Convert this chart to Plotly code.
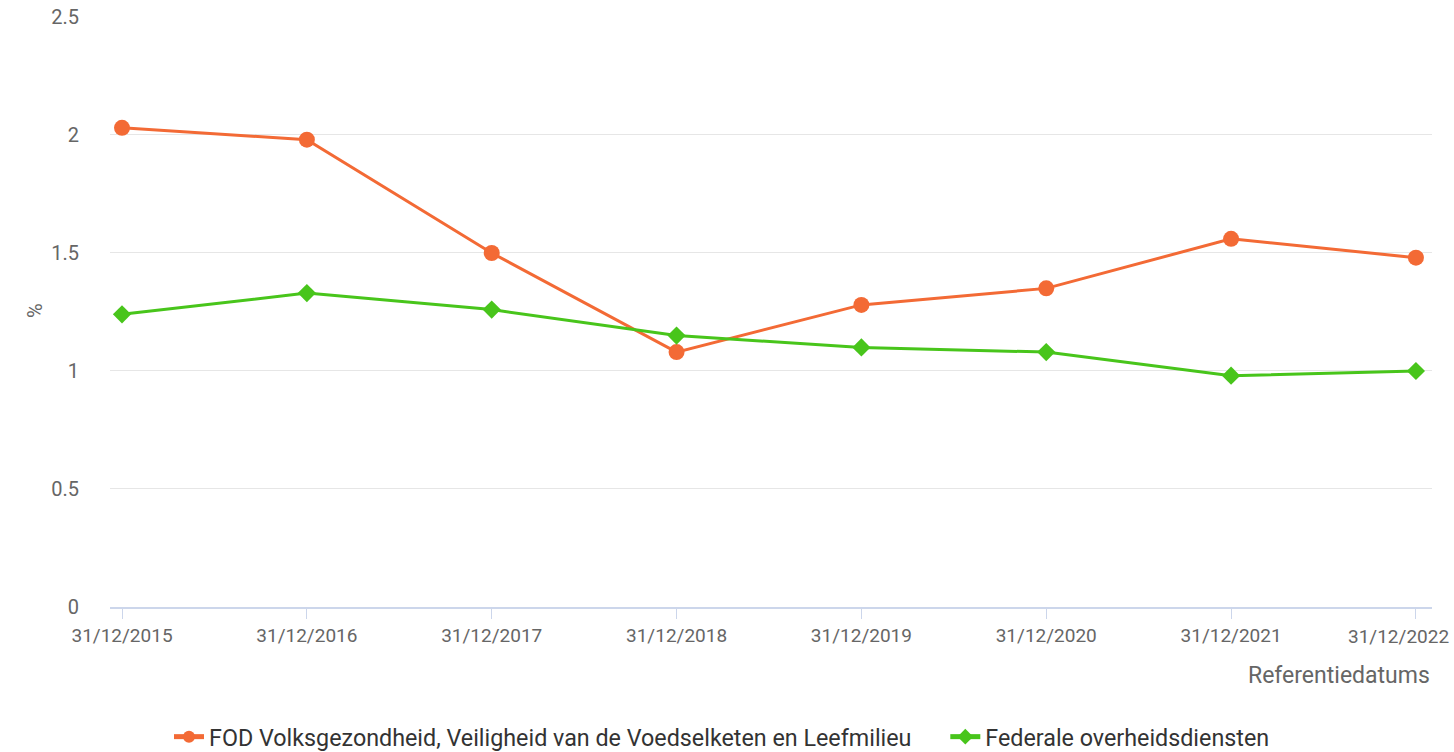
import plotly.graph_objects as go

categories = ["31/12/2015", "31/12/2016", "31/12/2017", "31/12/2018",
              "31/12/2019", "31/12/2020", "31/12/2021", "31/12/2022"]
fod_values = [2.03, 1.98, 1.50, 1.08, 1.28, 1.35, 1.56, 1.48]
federal_values = [1.24, 1.33, 1.26, 1.15, 1.10, 1.08, 0.98, 1.00]
y_ticks = [0, 0.5, 1, 1.5, 2, 2.5]
y_tick_labels = ["0", "0.5", "1", "1.5", "2", "2.5"]
series_names = ["FOD Volksgezondheid, Veiligheid van de Voedselketen en Leefmilieu",
                "Federale overheidsdiensten"]

FONT = "Roboto, 'Open Sans', sans-serif"
xidx = list(range(len(categories)))

L, R, T, B = 110, 22, 16, 145
W, H = 1454, 752
plot_w = W - L - R
plot_h = H - T - B

def px_x(x):
    return (x - L) / plot_w

def px_y(y):
    return (H - B - y) / plot_h

# the last label is drawn as an annotation so that it stays inside the chart,
# right-aligned like in the original
tick_text = list(categories[:-1]) + [""]

fig = go.Figure()
fig.add_trace(go.Scatter(
    x=xidx, y=fod_values, mode="lines+markers",
    name=series_names[0] + "\u00a0" * 5,
    line=dict(color="#f36a35", width=3),
    marker=dict(symbol="circle", size=16, color="#f36a35"),
))
fig.add_trace(go.Scatter(
    x=xidx, y=federal_values, mode="lines+markers",
    name=series_names[1],
    line=dict(color="#48c51b", width=3),
    marker=dict(symbol="diamond", size=14, color="#48c51b"),
))

fig.update_layout(
    width=W, height=H,
    margin=dict(l=L, r=R, t=T, b=B, autoexpand=False),
    paper_bgcolor="white", plot_bgcolor="white",
    font=dict(family=FONT, color="#666666"),
    showlegend=True,
    legend=dict(orientation="h", x=px_x(722), xanchor="center", y=px_y(737), yanchor="middle",
                font=dict(size=23.3, color="#333333"), tracegroupgap=0,
                itemsizing="constant"),
    xaxis=dict(
        tickmode="array", tickvals=xidx, ticktext=tick_text,
        range=[-0.065, 7.087], automargin=False,
        showgrid=False, zeroline=False,
        showline=True, linecolor="#ccd6eb", linewidth=2,
        ticks="outside", ticklen=10, tickcolor="#ccd6eb", tickwidth=1,
        tickfont=dict(size=19, color="#666666"),
    ),
    yaxis=dict(
        range=[0, 2.504], tickvals=y_ticks, ticktext=y_tick_labels,
        automargin=False,
        showgrid=True, gridcolor="#e6e6e6", gridwidth=1,
        zeroline=False, showline=False,
        ticks="outside", ticklen=26, tickcolor="rgba(0,0,0,0)",
        tickfont=dict(size=20, color="#666666"),
    ),
    annotations=[
        dict(text="%", x=px_x(21), y=px_y(310), xref="paper", yref="paper", showarrow=False,
             textangle=-90, font=dict(size=20, color="#666666")),
        dict(text="Referentiedatums", x=px_x(1432), xanchor="right", xref="paper",
             y=px_y(675), yanchor="middle", yref="paper", showarrow=False,
             font=dict(size=23, color="#666666")),
        dict(text=categories[-1], x=xidx[-1], xref="x", xanchor="right", xshift=35,
             y=0, yref="y", yanchor="middle", yshift=-29, showarrow=False,
             font=dict(size=19, color="#666666")),
    ],
)

fig.write_html(
    "out.html",
    config={"displayModeBar": False},
    post_script="document.body.style.margin='0';document.body.style.padding='0';"
                "document.body.style.overflow='hidden';",
)
